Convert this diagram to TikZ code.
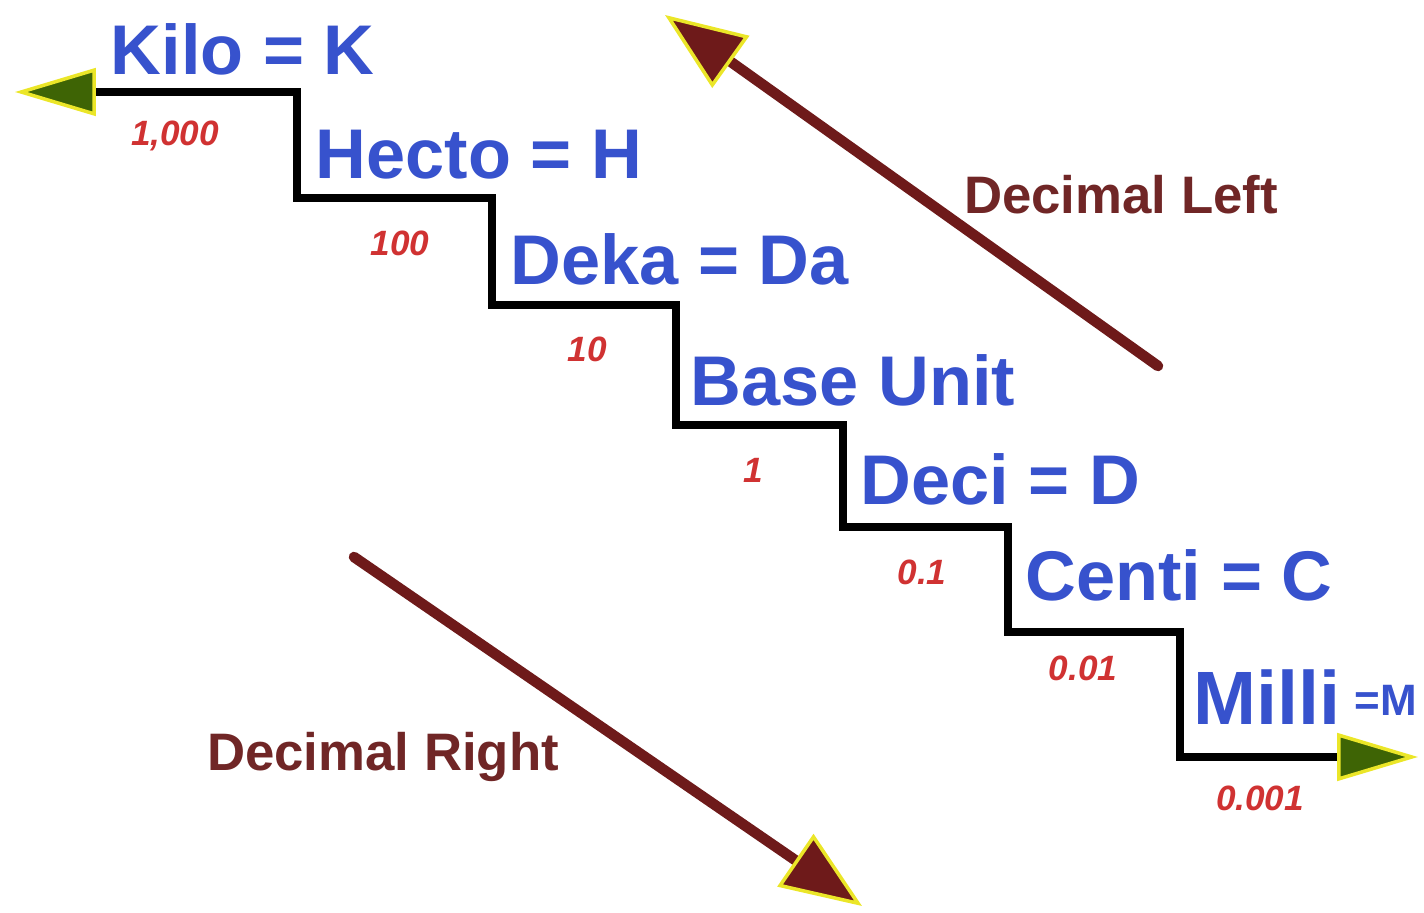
\documentclass[tikz,border=0pt]{standalone}
\usepackage{fontspec}
\setmainfont{Liberation Sans}
\usetikzlibrary{arrows.meta}
\definecolor{unitblue}{RGB}{55,82,205}
\definecolor{numred}{RGB}{208,50,50}
\definecolor{decbrown}{RGB}{110,26,26}
\definecolor{dectext}{RGB}{112,38,38}
\definecolor{tipgreen}{RGB}{62,100,5}
\definecolor{tipyellow}{RGB}{235,230,40}

\begin{document}
\begin{tikzpicture}[x=0.01cm,y=-0.01cm]
	\def\unitsize{20}
	\def\numsize{10}

	\tikzset{line/.style={draw,line width=2.4pt}}
	\tikzset{stair/.style={line,black,line join=miter,>={Triangle[length=23pt,width=13.5pt,fill=tipgreen,color=tipyellow,line width=1pt]},<->}}
	\tikzset{decarrow/.style={line,decbrown,line width=3pt,line cap=round,-{Triangle[length=23pt,width=18pt,fill=decbrown,color=tipyellow,line width=1pt]}}}
	\tikzset{unit/.style={text=unitblue,inner sep=0pt,anchor=base west,font=\fontsize{\unitsize}{24}\selectfont\bfseries}}
	\tikzset{num/.style={text=numred,inner sep=0pt,font=\fontsize{\numsize}{12}\selectfont\bfseries\itshape}}
	\tikzset{dec/.style={text=dectext,inner sep=0pt,font=\fontsize{15}{18}\selectfont\bfseries}}

	\useasboundingbox (0,0) rectangle (1424,913);

	% stair corners
	\foreach \x/\y [count=\i] in {15/92,297/92,297/198,492/198,492/305,676/305,676/425,843/425,843/527,1008/527,1008/632,1180/632,1180/757,1418/757}
		\coordinate (p\i) at (\x,\y);

	\draw[stair] (p1) -- (p2) -- (p3) -- (p4) -- (p5) -- (p6) -- (p7) -- (p8) -- (p9) -- (p10) -- (p11) -- (p12) -- (p13) -- (p14);

	% prefixes
	\node[unit] (kilo) at (110,75) {Kilo = K};
	\node[unit] (hecto) at (315,179) {Hecto = H};
	\node[unit] (deka) at (510,285) {Deka = Da};
	\node[unit] (base) at (690,406) {Base Unit};
	\node[unit] (deci) at (860,505) {Deci = D};
	\node[unit] (centi) at (1025,601) {Centi = C};
	\node[unit,font=\fontsize{21.5}{24}\selectfont\bfseries] (milli) at (1193,725) {Milli};
	\node[unit,font=\fontsize{12.5}{14}\selectfont\bfseries] (milliM) at (1354,716) {=M};

	% factors
	\node[num] (n1) at (175,136) {1,000};
	\node[num] (n2) at (400,243) {100};
	\node[num] (n3) at (587,349) {10};
	\node[num] (n4) at (753,470) {1};
	\node[num] (n5) at (922,572) {0.1};
	\node[num] (n6) at (1083,668) {0.01};
	\node[num] (n7) at (1260,798) {0.001};

	% decimal moves
	\coordinate (leftTail) at (1158,366);
	\coordinate (leftTip) at (665,15);
	\coordinate (rightTail) at (354,557);
	\coordinate (rightTip) at (862,906);
	\draw[decarrow] (leftTail) -- (leftTip);
	\draw[decarrow] (rightTail) -- (rightTip);

	\node[dec] (decLeft) at (1121,195) {Decimal Left};
	\node[dec] (decRight) at (383,757) {Decimal Right};
\end{tikzpicture}
\end{document}
